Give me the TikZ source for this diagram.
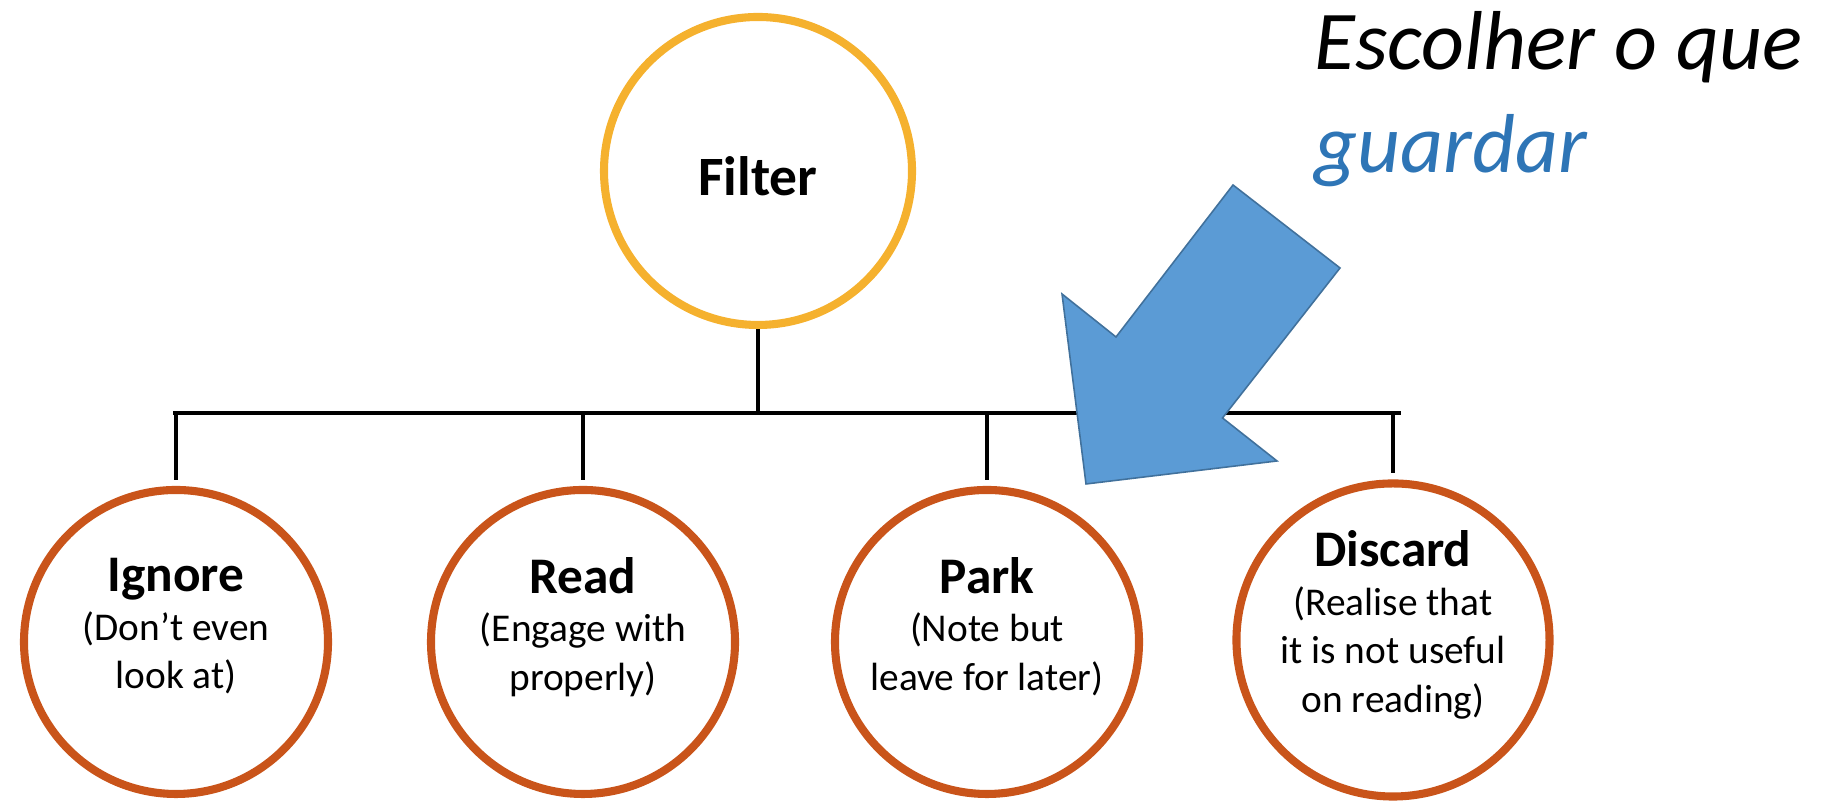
\documentclass[tikz,border=0pt]{standalone}
\usepackage{fontspec}
\setmainfont{Carlito}
\definecolor{filtergold}{HTML}{F5B12E}
\definecolor{rust}{HTML}{C9541A}
\definecolor{arrowblue}{HTML}{5B9BD5}
\definecolor{arrowedge}{HTML}{41719C}
\definecolor{capblue}{HTML}{2E75B6}
\newcommand{\titlef}{\fontsize{14.6pt}{13.8pt}\selectfont\bfseries}

\begin{document}
\begin{tikzpicture}[thick,
    branch/.style={circle, draw=rust, line width=2.3pt, minimum size=3.04cm, inner sep=0pt,
        align=center, text depth=10.5pt, font=\fontsize{11.2pt}{13.8pt}\selectfont},
    root/.style={circle, draw=filtergold, line width=2.3pt, minimum size=3.08cm, inner sep=0pt,
        text height=14pt, font=\fontsize{15.8pt}{18pt}\selectfont\bfseries},
    link/.style={line width=1.15pt, black}]
        \useasboundingbox (0,0) rectangle (18.3,8.01);

        \node[root] (filter) at (7.58,6.30) {Filter};
        \node[branch] (ignore) at (1.76,1.59) {{\titlef Ignore}\\(Don’t even\\look at)};
        \node[branch] (read) at (5.83,1.59) {{\titlef Read}\\(Engage with\\properly)};
        \node[branch] (park) at (9.87,1.59) {{\titlef Park}\\(Note but\\leave for later)};
        \node[branch] (discard) at (13.93,1.61) {{\titlef Discard}\\(Realise that\\it is not useful\\on reading)};

        \coordinate (busL) at (1.73,3.88);
        \coordinate (busR) at (14.01,3.88);
        \draw[link] (busL) -- (busR);
        \draw[link] (filter.south) -- (filter.south |- busL);
        \foreach \n in {ignore,read,park,discard}
            \draw[link] (\n.north |- busL) -- ([yshift=0.06cm]\n.north);

        \filldraw[fill=arrowblue, draw=arrowedge, line width=0.45pt]
            (12.33,6.16) -- (13.40,5.33) -- (12.225,3.83) -- (12.77,3.40)
            -- (10.86,3.17) -- (10.62,5.07) -- (11.16,4.64) -- cycle;

        \node[anchor=north west, inner sep=0pt, align=left,
            font=\fontsize{23.8pt}{29.2pt}\selectfont\itshape] (caption) at (13.13,7.91)
            {Escolher o que\\\textcolor{capblue}{guardar}};
    \end{tikzpicture}
\end{document}
